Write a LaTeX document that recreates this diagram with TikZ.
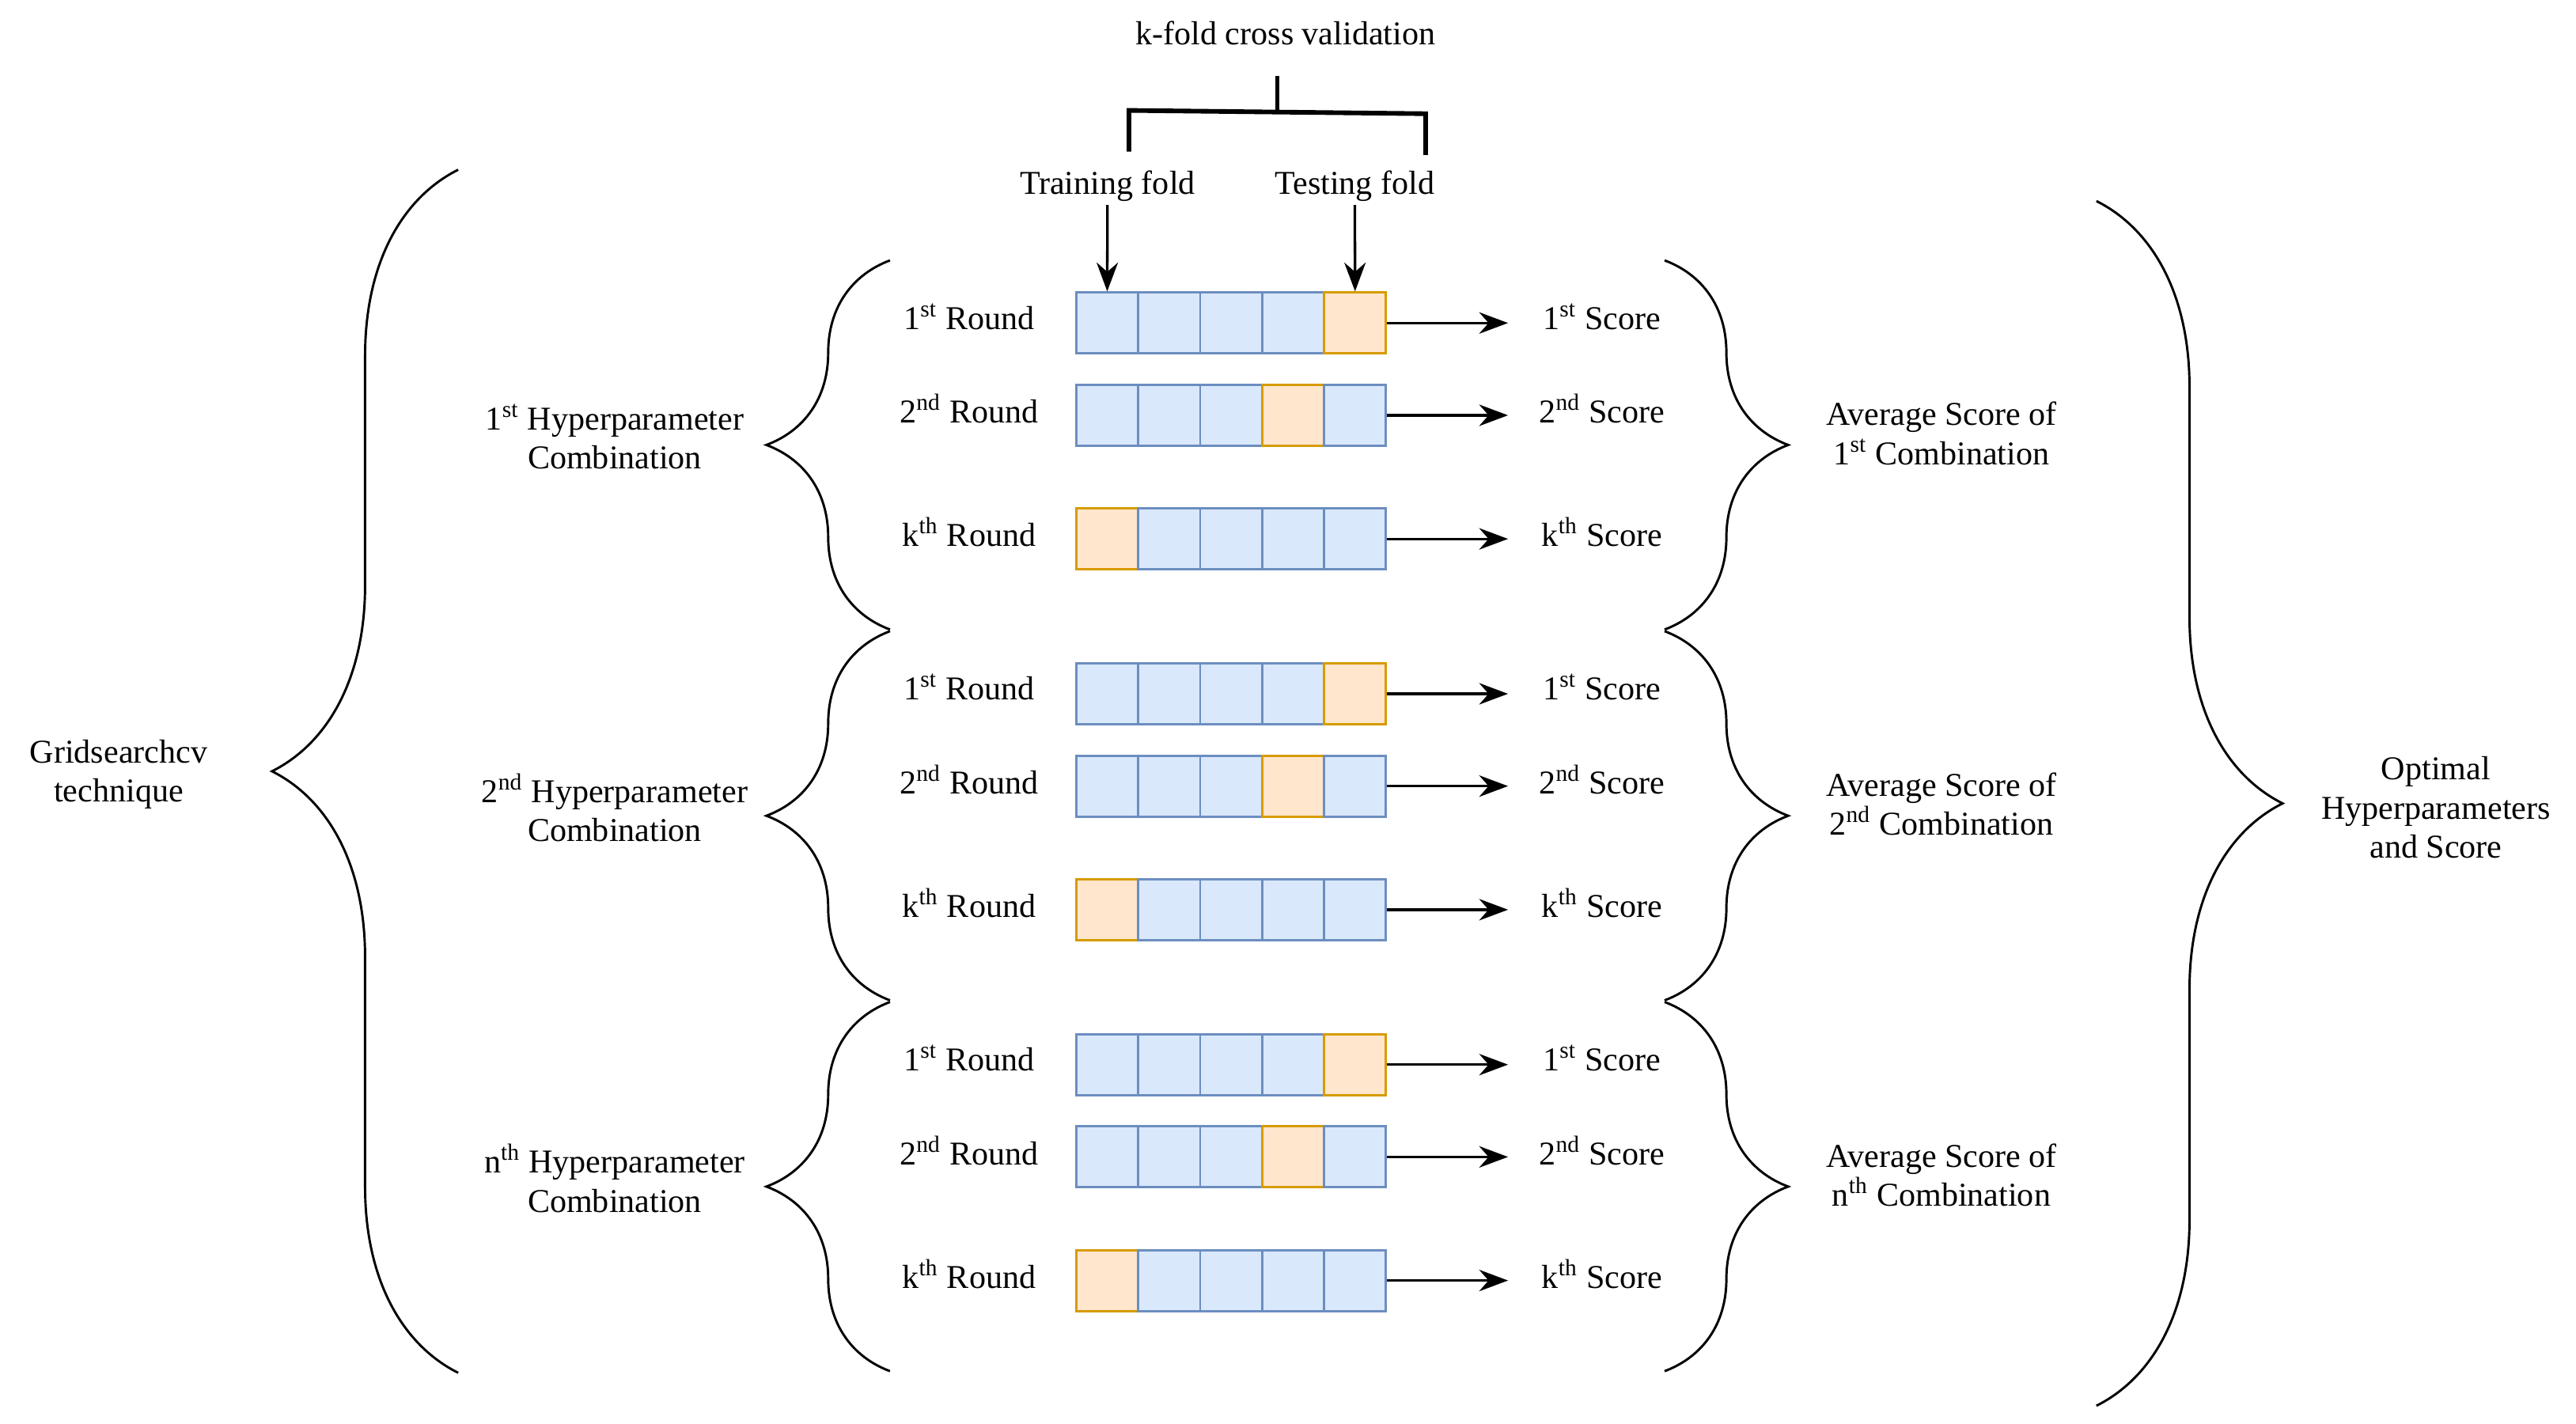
\documentclass[tikz,border=0pt]{standalone}
\usepackage{fontspec}
\setmainfont{Liberation Serif}
\usetikzlibrary{decorations.pathreplacing,arrows.meta}
\definecolor{cellblue}{HTML}{DAE8FC}
\definecolor{lineblue}{HTML}{6C8EBF}
\definecolor{cellorange}{HTML}{FFE6CC}
\definecolor{lineorange}{HTML}{D79B00}
\tikzset{
  cell/.style={draw=lineblue,fill=cellblue,minimum width=0.752cm,minimum height=0.74cm,inner sep=0pt,line width=0.8pt},
  test/.style={cell,draw=lineorange,fill=cellorange},
  lbl/.style={font=\fontsize{11.5}{13.5}\selectfont,align=center,inner sep=1pt},
  arr/.style={-{Stealth[length=3.5mm,width=2.6mm]},line width=0.9pt},
  brc/.style={decorate,decoration={brace,amplitude=#1},line width=0.8pt},
}
\begin{document}
\begin{tikzpicture}[x=0.02cm,y=-0.02cm]
  \useasboundingbox (0,0) rectangle (1563,864);
  % top bracket
  \node[lbl] (kfold) at (780,20) {k-fold cross validation};
  \coordinate (stem) at (775,46);
  \coordinate (bl) at (685,92);
  \coordinate (blt) at (685,67);
  \coordinate (brt) at (865,69);
  \coordinate (br) at (865,94);
  \coordinate (stemb) at (775,68);
  \draw[line width=1.6pt] (bl) -- (blt) -- (brt) -- (br);
  \draw[line width=1.6pt] (stem) -- (stemb);
  \node[lbl] (train) at (672,113) {Training fold};
  \node[lbl] (testf) at (822,113) {Testing fold};
  % groups
  \foreach \g/\gy/\gs/\cs in {0/0/1/1,1/225/2/2,2/450/n/n}{
    \begin{scope}[yshift=-\gy*0.02cm]
      \foreach \r/\ry/\rs/\t in {1/196/1\textsuperscript{st}/5,2/252/2\textsuperscript{nd}/4,k/327/k\textsuperscript{th}/1}{
        \foreach \c in {1,...,5}{
          \ifnum\c=\t
            \node[test] (c\g\r\c) at (653+18.8+37.6*\c-37.6,\ry) {};
          \else
            \node[cell] (c\g\r\c) at (653+18.8+37.6*\c-37.6,\ry) {};
          \fi
        }
        \node[lbl] (rnd\g\r) at (588,\ry-4) {\rs{} Round};
        \node[lbl] (sc\g\r) at (972,\ry-4) {\rs{} Score};
        \coordinate (ae\g\r) at (915,\ry);
        \draw[arr] (c\g\r5.east) -- (ae\g\r);
      }
      \coordinate (lt\g) at (540,158);
      \coordinate (lb\g) at (540,382);
      \draw[brc=1.5cm] (lb\g) -- (lt\g);
      \coordinate (rt\g) at (1010,158);
      \coordinate (rb\g) at (1010,382);
      \draw[brc=1.5cm] (rt\g) -- (rb\g);
      \node[lbl] (hp\g) at (373,265) {\gs\textsuperscript{\ifnum\g=0 st\else\ifnum\g=1 nd\else th\fi\fi} Hyperparameter\\Combination};
      \node[lbl] (avg\g) at (1178,263) {Average Score of\\\cs\textsuperscript{\ifnum\g=0 st\else\ifnum\g=1 nd\else th\fi\fi} Combination};
    \end{scope}
  }
  \draw[arr] (train) -- (c011.north);
  \draw[arr] (testf) -- (c015.north);
  % outer braces
  \coordinate (bigl1) at (278,103);
  \coordinate (bigl2) at (278,833);
  \draw[brc=2.26cm] (bigl2) -- (bigl1);
  \node[lbl] (grid) at (72,470) {Gridsearchcv\\technique};
  \coordinate (bigr1) at (1272,122);
  \coordinate (bigr2) at (1272,853);
  \draw[brc=2.26cm] (bigr1) -- (bigr2);
  \node[lbl] (opt) at (1478,490) {Optimal\\Hyperparameters\\and Score};
\end{tikzpicture}
\end{document}
